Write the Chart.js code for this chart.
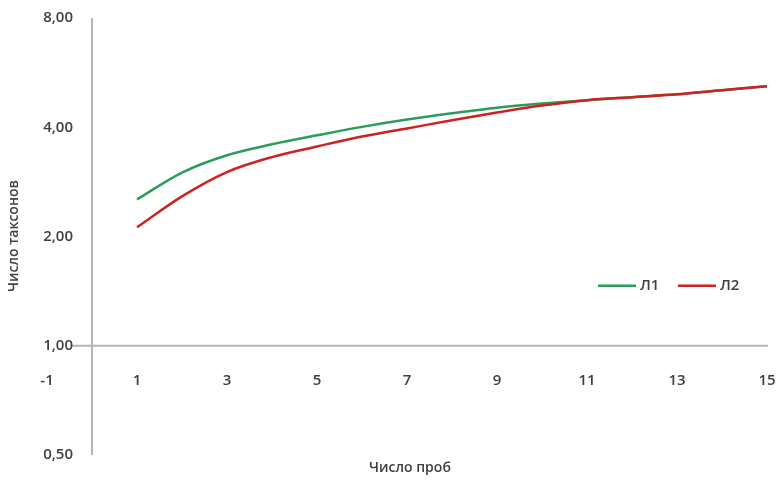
<!DOCTYPE html>
<html>
<head>
<meta charset="utf-8">
<script src="https://cdn.jsdelivr.net/npm/chart.js@4/dist/chart.umd.min.js"></script>
<style>
html,body{margin:0;padding:0;background:#fff;}
#wrap{width:778px;height:491px;}
</style>
</head>
<body>
<div id="wrap"><canvas id="c" width="778" height="491"></canvas></div>
<script>
const samples = [1,2,3,4,5,6,7,8,9,10,11,12,13,14,15];
const seriesL1 = [2.53,3.00,3.35,3.59,3.80,4.01,4.20,4.37,4.53,4.65,4.75,4.84,4.93,5.06,5.19];
const seriesL2 = [2.12,2.58,3.01,3.31,3.54,3.77,3.97,4.18,4.39,4.59,4.75,4.84,4.93,5.06,5.19];
const xTicks = [-1,1,3,5,7,9,11,13,15];
const yTicks = [0.5,1,2,4,8];
const xTitle = 'Число проб';
const yTitle = 'Число таксонов';
const labelL1 = 'Л1';
const labelL2 = 'Л2';

const GREEN = '#2a9d5c';
const RED = '#cc2222';
const AXIS = '#b5b5b5';
const TEXT = '#404040';

const fmt = v => v.toFixed(2).replace('.', ',');

const customAxes = {
  id: 'customAxes',
  beforeDatasetsDraw(chart) {
    const ctx = chart.ctx, xs = chart.scales.x, ys = chart.scales.y;
    const x0 = xs.getPixelForValue(0);
    const y1 = ys.getPixelForValue(1);
    ctx.save();
    ctx.strokeStyle = AXIS;
    ctx.lineWidth = 2;
    ctx.beginPath();
    ctx.moveTo(x0, ys.getPixelForValue(8));
    ctx.lineTo(x0, ys.getPixelForValue(0.5));
    ctx.stroke();
    ctx.beginPath();
    ctx.moveTo(x0 - 20, y1);
    ctx.lineTo(xs.getPixelForValue(15) + 1, y1);
    ctx.stroke();
    // y tick labels
    ctx.fillStyle = TEXT;
    ctx.font = '600 15px "Open Sans"';
    ctx.textAlign = 'right';
    ctx.textBaseline = 'middle';
    yTicks.forEach(v => ctx.fillText(fmt(v), x0 - 19, ys.getPixelForValue(v)));
    // x tick labels
    ctx.textAlign = 'center';
    ctx.textBaseline = 'middle';
    xTicks.forEach(v => ctx.fillText(String(v), xs.getPixelForValue(v), y1 + 35));
    // titles
    ctx.font = '600 14px "Open Sans"';
    ctx.fillText(xTitle, 410, 468);
    ctx.save();
    ctx.translate(14, 236);
    ctx.rotate(-Math.PI / 2);
    ctx.fillText(yTitle, 0, 0);
    ctx.restore();
    // legend
    const ly = ys.getPixelForValue(1) - 60;
    const items = [[labelL1, GREEN, 598], [labelL2, RED, 678]];
    ctx.font = '600 15px "Open Sans"';
    ctx.textAlign = 'left';
    items.forEach(([t, c, x]) => {
      ctx.strokeStyle = c;
      ctx.lineWidth = 2.5;
      ctx.beginPath();
      ctx.moveTo(x, ly);
      ctx.lineTo(x + 38, ly);
      ctx.stroke();
      ctx.fillStyle = TEXT;
      ctx.fillText(t, x + 42, ly);
    });
    ctx.restore();
  }
};

new Chart(document.getElementById('c'), {
  type: 'line',
  data: {
    datasets: [
      { label: labelL1, data: samples.map((x, i) => ({x, y: seriesL1[i]})), borderColor: GREEN, backgroundColor: GREEN, borderWidth: 2.5, pointRadius: 0, cubicInterpolationMode: 'monotone', order: 1 },
      { label: labelL2, data: samples.map((x, i) => ({x, y: seriesL2[i]})), borderColor: RED, backgroundColor: RED, borderWidth: 2.5, pointRadius: 0, cubicInterpolationMode: 'monotone', order: 0 }
    ]
  },
  options: {
    responsive: false,
    animation: false,
    layout: { padding: { left: 47, right: 11, top: 18, bottom: 36 } },
    plugins: { legend: { display: false }, tooltip: { enabled: false } },
    scales: {
      x: { type: 'linear', min: -1, max: 15, display: false },
      y: { type: 'logarithmic', min: 0.5, max: 8, display: false }
    }
  },
  plugins: [customAxes]
});
</script>
</body>
</html>
